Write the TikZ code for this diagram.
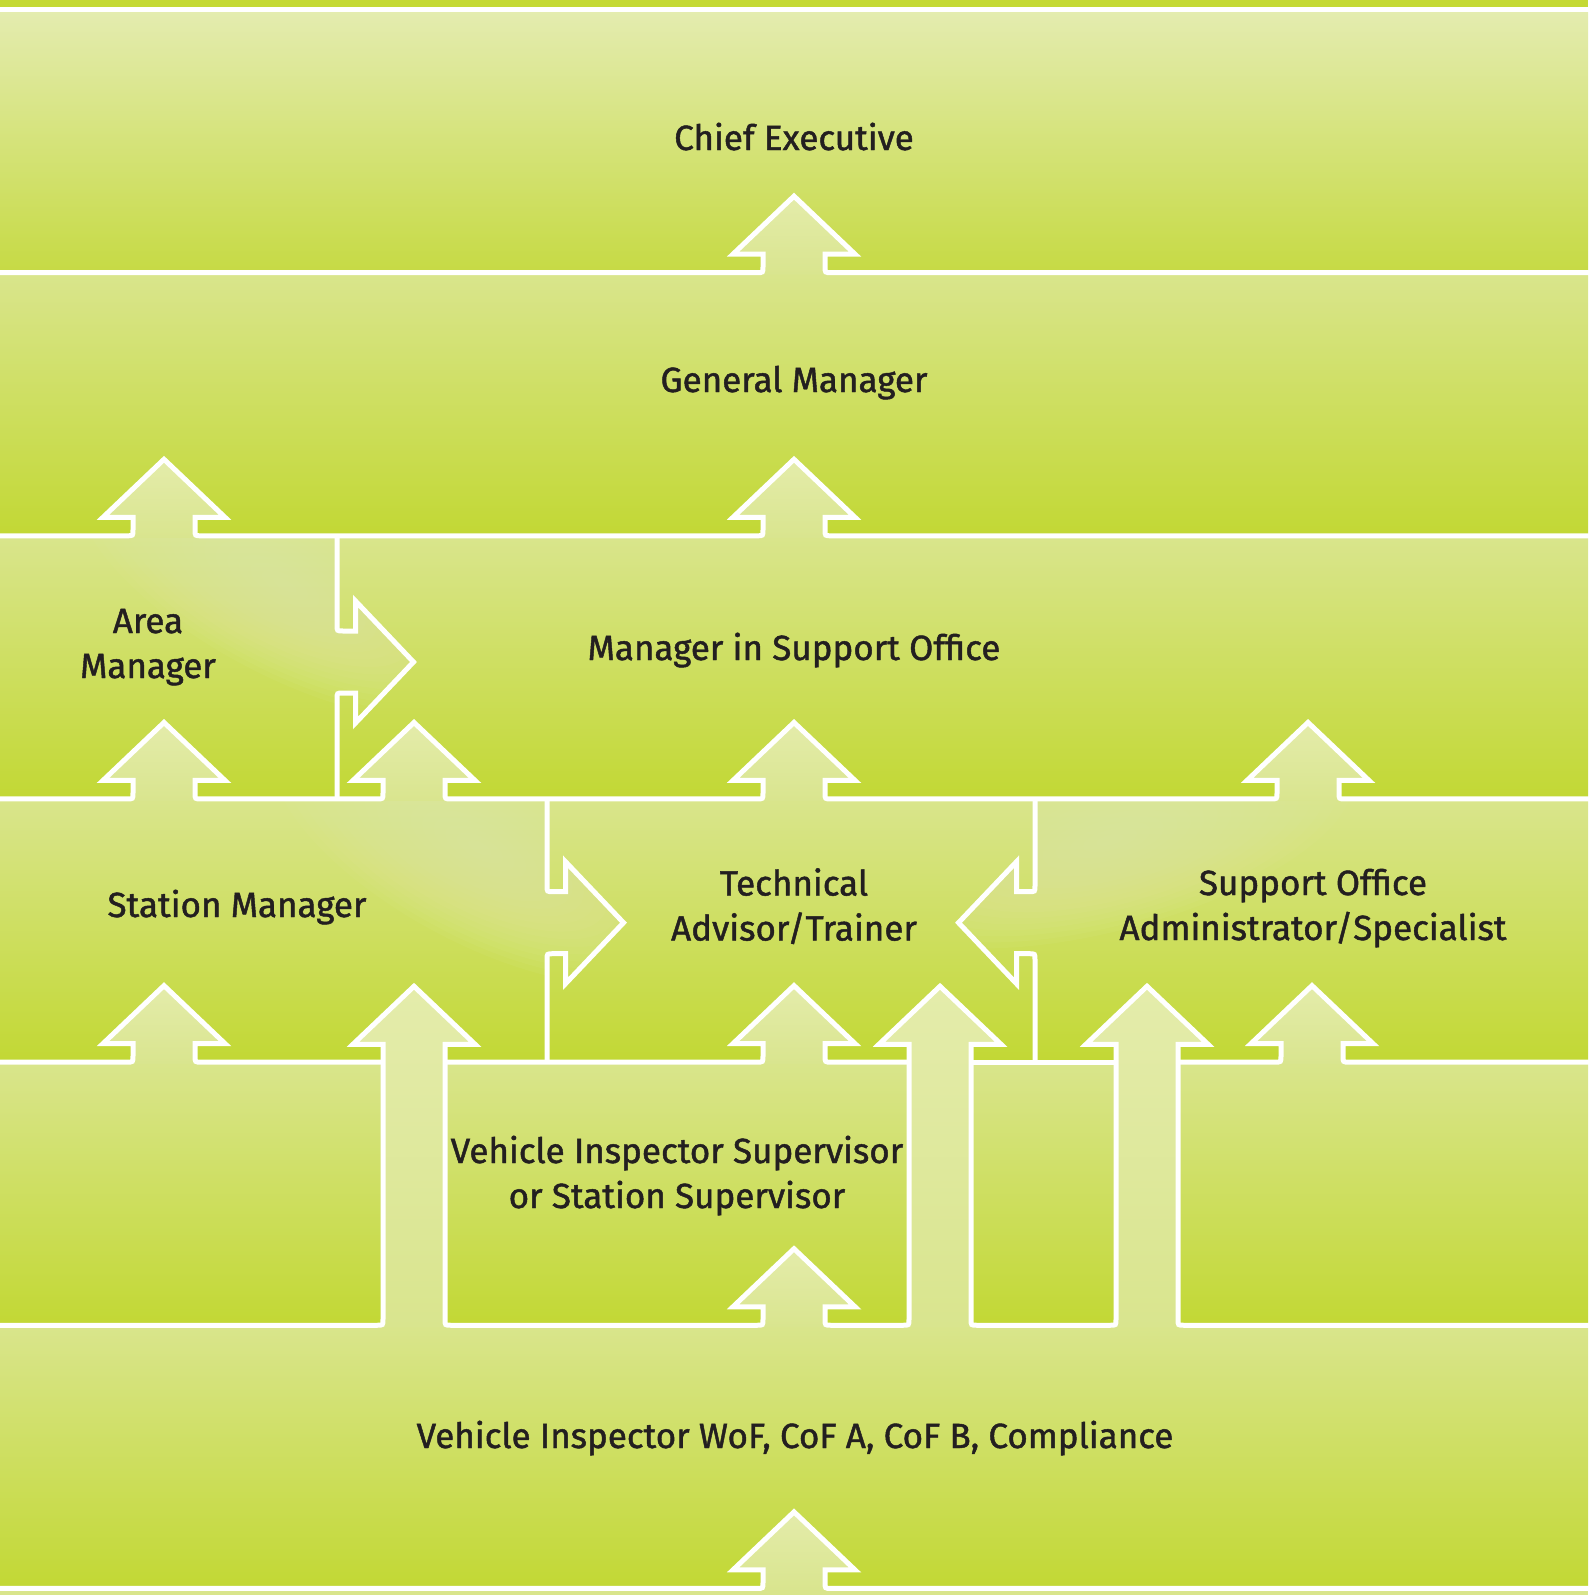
\documentclass[tikz,border=0pt]{standalone}
\usepackage{fontspec}
\setmainfont{Fira Sans}
\newfontfamily\lblfont{Fira Sans}[FakeBold=1.3]
\definecolor{strip}{HTML}{C4D934}
\definecolor{bandtop}{HTML}{D9E58C}
\definecolor{bandone}{HTML}{E4ECB0}
\definecolor{bandbot}{HTML}{C2D834}
\definecolor{bandonebot}{HTML}{C6DA44}
\definecolor{arrtop}{HTML}{E4ECAB}
\definecolor{arrbot}{HTML}{D9E58E}
\definecolor{glowc}{HTML}{E4EEA6}
\definecolor{textc}{HTML}{231F20}
\def\Lzero{9.5}
\def\Lone{272.65}
\def\Ltwo{535.8}
\def\Lthree{798.95}
\def\Lfour{1062.1}
\def\Lfive{1325.25}
\def\Lsix{1588.4}
% up arrow sitting on a line at height #2, centre #1, shaft length #3
\newcommand\UArr[3]{-- ({#1-37},#2) .. controls ({#1-31},#2) .. ({#1-31},{#2-6}) -- ({#1-31},{#2-#3}) -- ({#1-61},{#2-#3}) -- (#1,{#2-#3-58}) -- ({#1+61},{#2-#3}) -- ({#1+31},{#2-#3}) -- ({#1+31},{#2-6}) .. controls ({#1+31},#2) .. ({#1+37},#2)}
\newcommand\UFill[3]{({#1-31},{#2+2}) -- ({#1-31},{#2-#3}) -- ({#1-61},{#2-#3}) -- (#1,{#2-#3-58}) -- ({#1+61},{#2-#3}) -- ({#1+31},{#2-#3}) -- ({#1+31},{#2+2}) -- cycle}
% vertical wall at x=#1 from #3 to #4 with arrow at height #2
\newcommand\RWall[4]{(#1,#3) -- (#1,{#2-37}) .. controls (#1,{#2-31}) .. ({#1+6},{#2-31}) -- ({#1+18.5},{#2-31}) -- ({#1+18.5},{#2-61}) -- ({#1+76.5},#2) -- ({#1+18.5},{#2+61}) -- ({#1+18.5},{#2+31}) -- ({#1+6},{#2+31}) .. controls (#1,{#2+31}) .. (#1,{#2+37}) -- (#1,#4)}
\newcommand\LWall[4]{(#1,#3) -- (#1,{#2-37}) .. controls (#1,{#2-31}) .. ({#1-6},{#2-31}) -- ({#1-18.5},{#2-31}) -- ({#1-18.5},{#2-61}) -- ({#1-76.5},#2) -- ({#1-18.5},{#2+61}) -- ({#1-18.5},{#2+31}) -- ({#1-6},{#2+31}) .. controls (#1,{#2+31}) .. (#1,{#2+37}) -- (#1,#4)}
\newcommand\GlowAt[5]{\foreach \gi in {1,...,18}{\fill[glowc, opacity=0.075, rotate around={#5:(#1,#2)}] (#1,#2) ellipse [x radius={#3*\gi/18}, y radius={#4*\gi/18}];}}
\tikzset{
  wline/.style={draw=white, line width=5pt},
  lbl/.style={font=\lblfont\fontsize{35}{45}\selectfont, text=textc, align=center, inner sep=0pt, anchor=base},
  bandshade/.style={top color=bandtop, bottom color=bandbot},
  arrshade/.style={top color=arrtop, bottom color=arrbot},
  longshade/.style={top color=arrtop, middle color=arrtop!70!arrbot, bottom color=arrbot}
}
\begin{document}
\begin{tikzpicture}[x=1pt,y=-1pt]
\useasboundingbox (0,0) rectangle (1588,1595);
% background and bands
\fill[strip] (0,0) rectangle (1588,1595);
\shade[top color=bandone, bottom color=bandonebot] (0,\Lzero) rectangle (1588,\Lone);
\shade[bandshade] (0,\Lone) rectangle (1588,\Ltwo);
\shade[bandshade] (0,\Ltwo) rectangle (1588,\Lthree);
\shade[bandshade] (0,\Lthree) rectangle (1588,\Lfour);
\shade[bandshade] (0,\Lfour) rectangle (1588,\Lfive);
\shade[bandshade] (0,\Lfive) rectangle (1588,\Lsix);
\fill[bandtop] (0,\Lsix) rectangle (1588,1595);
% glows
\begin{scope}
\clip (0,\Ltwo) -- (337,\Ltwo) -- (337,631) -- (355.5,631) -- (355.5,601) -- (413.5,662) -- (355.5,723) -- (355.5,693) -- (337,693) -- (337,\Lthree) -- (0,\Lthree) -- cycle;
\GlowAt{285}{585}{230}{90}{-28}
\end{scope}
\begin{scope}
\clip (0,\Lthree) -- (547,\Lthree) -- (547,891.7) -- (565.5,891.7) -- (565.5,861.7) -- (623.5,922.7) -- (565.5,983.7) -- (565.5,953.7) -- (547,953.7) -- (547,\Lfour) -- (0,\Lfour) -- cycle;
\GlowAt{480}{848}{230}{95}{-28}
\end{scope}
\begin{scope}
\clip (1588,\Lthree) -- (1035,\Lthree) -- (1035,891.7) -- (1016.5,891.7) -- (1016.5,861.7) -- (958.5,922.7) -- (1016.5,983.7) -- (1016.5,953.7) -- (1035,953.7) -- (1035,\Lfour) -- (1588,\Lfour) -- cycle;
\GlowAt{1110}{840}{250}{90}{15}
\end{scope}
% arrow fills
\foreach \cx/\ly in {794/\Lone, 164/\Ltwo, 794/\Ltwo, 164/\Lthree, 414/\Lthree, 794/\Lthree, 1308/\Lthree, 164/\Lfour, 794/\Lfour, 1312/\Lfour, 794/\Lfive, 794/\Lsix}
  \shade[arrshade] \UFill{\cx}{\ly}{18.5};
\foreach \cx in {414, 940, 1147}
  \shade[longshade] \UFill{\cx}{\Lfive}{281};
% white lines
\draw[wline] (-5,\Lzero) -- (1593,\Lzero);
\draw[wline] (-5,\Lone) \UArr{794}{\Lone}{18.5} -- (1593,\Lone);
\draw[wline] (-5,\Ltwo) \UArr{164}{\Ltwo}{18.5} \UArr{794}{\Ltwo}{18.5} -- (1593,\Ltwo);
\draw[wline] (-5,\Lthree) \UArr{164}{\Lthree}{18.5} \UArr{414}{\Lthree}{18.5} \UArr{794}{\Lthree}{18.5} \UArr{1308}{\Lthree}{18.5} -- (1593,\Lthree);
\draw[wline] (-5,\Lfour) \UArr{164}{\Lfour}{18.5} -- (383,\Lfour);
\draw[wline] (445,\Lfour) \UArr{794}{\Lfour}{18.5} -- (909,\Lfour);
\draw[wline] (971,\Lfour) -- (1116,\Lfour);
\draw[wline] (1178,\Lfour) \UArr{1312}{\Lfour}{18.5} -- (1593,\Lfour);
\draw[wline] (-5,\Lfive) \UArr{414}{\Lfive}{281} \UArr{794}{\Lfive}{18.5} \UArr{940}{\Lfive}{281} \UArr{1147}{\Lfive}{281} -- (1593,\Lfive);
\draw[wline] (-5,\Lsix) \UArr{794}{\Lsix}{18.5} -- (1593,\Lsix);
\draw[wline] \RWall{337}{662}{\Ltwo}{\Lthree};
\draw[wline] \RWall{547}{922.7}{\Lthree}{\Lfour};
\draw[wline] \LWall{1035}{922.7}{\Lthree}{\Lfour};
% labels (anchor base = baseline of the last line)
\node[lbl] (ce) at (794,150) {Chief Executive};
\node[lbl] (gm) at (794,392) {General Manager};
\node[lbl] (am) at (148,678) {Area\\Manager};
\node[lbl] (mso) at (794,660) {Manager in Support Office};
\node[lbl] (sm) at (237,917) {Station Manager};
\node[lbl] (ta) at (794,940.5) {Technical\\Advisor/Trainer};
\node[lbl] (so) at (1313,940) {Support Office\\Administrator/Specialist};
\node[lbl] (vis) at (677,1208) {Vehicle Inspector Supervisor\\or Station Supervisor};
\node[lbl] (vi) at (795,1448) {Vehicle Inspector WoF, CoF A, CoF B, Compliance};
\end{tikzpicture}
\end{document}
